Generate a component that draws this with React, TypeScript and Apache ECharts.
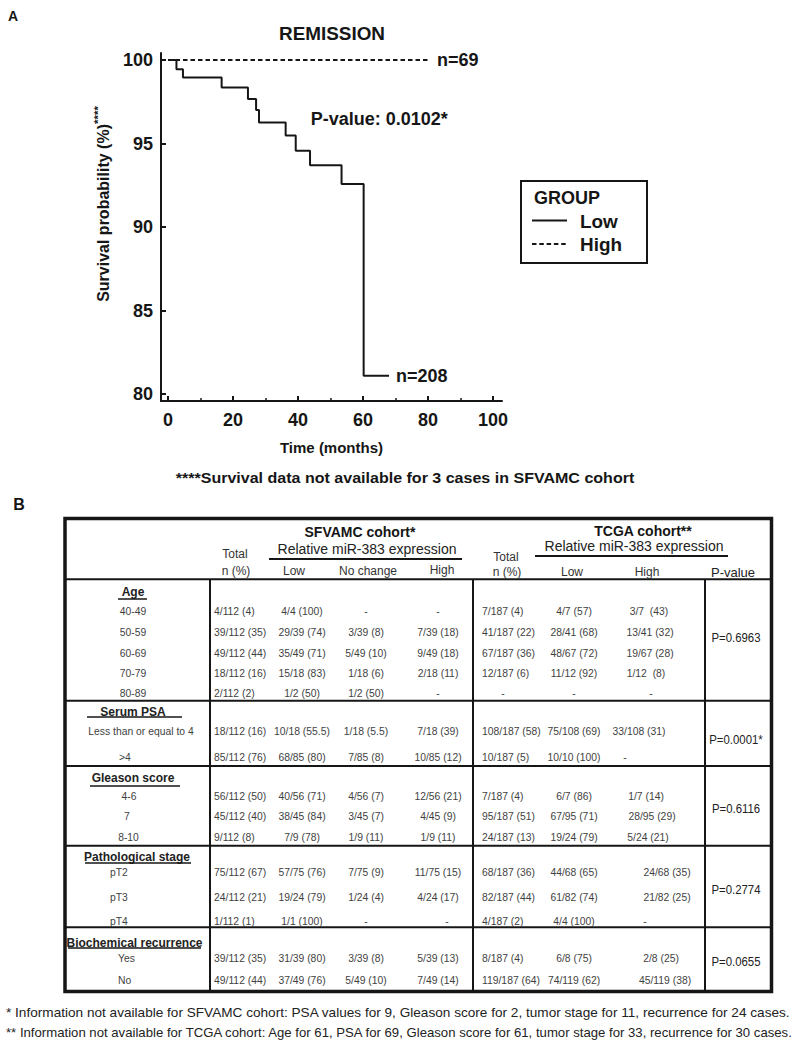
import React, { useEffect, useRef } from 'react';
import * as echarts from 'echarts';

// ---------- Panel A data (Kaplan-Meier, remission) ----------
const lowTimes = [0, 2.6, 4.6, 16.5, 24.6, 27.1, 28.0, 36.2, 39.3, 43.7, 53.4, 60.2, 68];
const lowSurvival = [100, 99.44, 98.95, 98.35, 97.67, 97.0, 96.26, 95.48, 94.57, 93.7, 92.58, 81.1, 81.1];
const highTimes = [0, 80];
const highSurvival = [100, 100];
const xTicks = [0, 20, 40, 60, 80, 100];
const xMinorTicks = [10, 30, 50, 70, 90];
const yTicks = [80, 85, 90, 95, 100];
const groups = ['Low', 'High'];
const groupN = ['n=208', 'n=69'];
const pValueText = 'P-value: 0.0102*';

// ---------- Panel B data (table) ----------
const sectionTitles = ['Age', 'Serum PSA', 'Gleason score', 'Pathological stage', 'Biochemical recurrence'];
const rowLabels = ['40-49', '50-59', '60-69', '70-79', '80-89', 'Less than or equal to 4', '>4', '4-6', '7', '8-10', 'pT2', 'pT3', 'pT4', 'Yes', 'No'];
const sfTotal = ['4/112 (4)', '39/112 (35)', '49/112 (44)', '18/112 (16)', '2/112 (2)', '18/112 (16)', '85/112 (76)', '56/112 (50)', '45/112 (40)', '9/112 (8)', '75/112 (67)', '24/112 (21)', '1/112 (1)', '39/112 (35)', '49/112 (44)'];
const sfLow = ['4/4 (100)', '29/39 (74)', '35/49 (71)', '15/18 (83)', '1/2 (50)', '10/18 (55.5)', '68/85 (80)', '40/56 (71)', '38/45 (84)', '7/9 (78)', '57/75 (76)', '19/24 (79)', '1/1 (100)', '31/39 (80)', '37/49 (76)'];
const sfNoChange = ['-', '3/39 (8)', '5/49 (10)', '1/18 (6)', '1/2 (50)', '1/18 (5.5)', '7/85 (8)', '4/56 (7)', '3/45 (7)', '1/9 (11)', '7/75 (9)', '1/24 (4)', '-', '3/39 (8)', '5/49 (10)'];
const sfHigh = ['-', '7/39 (18)', '9/49 (18)', '2/18 (11)', '-', '7/18 (39)', '10/85 (12)', '12/56 (21)', '4/45 (9)', '1/9 (11)', '11/75 (15)', '4/24 (17)', '-', '5/39 (13)', '7/49 (14)'];
const tcTotal = ['7/187 (4)', '41/187 (22)', '67/187 (36)', '12/187 (6)', '-', '108/187 (58)', '10/187 (5)', '7/187 (4)', '95/187 (51)', '24/187 (13)', '68/187 (36)', '82/187 (44)', '4/187 (2)', '8/187 (4)', '119/187 (64)'];
const tcLow = ['4/7 (57)', '28/41 (68)', '48/67 (72)', '11/12 (92)', '-', '75/108 (69)', '10/10 (100)', '6/7 (86)', '67/95 (71)', '19/24 (79)', '44/68 (65)', '61/82 (74)', '4/4 (100)', '6/8 (75)', '74/119 (62)'];
const tcHigh = ['3/7  (43)', '13/41 (32)', '19/67 (28)', '1/12  (8)', '-', '33/108 (31)', '-', '1/7 (14)', '28/95 (29)', '5/24 (21)', '24/68 (35)', '21/82 (25)', '-', '2/8 (25)', '45/119 (38)'];
const pValues = ['P=0.6963', 'P=0.0001*', 'P=0.6116', 'P=0.2774', 'P=0.0655'];
const footnotes = [
  '* Information not available for SFVAMC cohort: PSA values for 9, Gleason score for 2, tumor stage for 11, recurrence for 24 cases.',
  '** Information not available for TCGA cohort: Age for 61, PSA for 69, Gleason score for 61, tumor stage for 33, recurrence for 30 cases.',
];

// ---------- layout (positions only) ----------
const FONT = '"Liberation Sans", Arial, sans-serif';
const INK = '#161616';
const BODY = '#3f3f3f';
const X_MIN = -7 / 3.25;
const X_MAX = 100 + 9 / 3.25;
const Y_MIN = 80 - 7 / 16.7;
const Y_MAX = 100 + 7 / 16.7;

const rowY = [611, 632, 653, 673, 693, 731, 757, 796, 816, 837, 872, 897, 921, 958, 980];
const rowLabelPos: [number, string][] = [
  [133, 'center'], [133, 'center'], [133, 'center'], [133, 'center'], [133, 'center'],
  [141, 'center'], [119, 'left'],
  [129, 'center'], [127, 'center'], [128.5, 'center'],
  [110, 'left'], [110, 'left'], [110, 'left'],
  [118, 'left'], [118, 'left'],
];
const sectionY = [592, 712, 778, 857, 943];
const sectionX = [133, 133, 133, 137, 134.5];
const sectionUnderline = [[118, 147, 599], [87, 182, 717], [90, 180, 786], [85, 191, 863], [68, 201, 948]];
const separatorY = [700.7, 766, 845.7, 927.3];
const pY = [638, 740, 809, 890, 962];
const tcHighX = [649, 650, 650, 646, 651, 639, 625, 646, 652, 648, 667, 667, 645, 661, 665];
const footnoteScale = [1.08, 1.045];

function buildGraphic() {
  const g: any[] = [];
  const txt = (text: string, x: number, y: number, o: any = {}) =>
    g.push({
      type: 'text', x, y, silent: true, rotation: o.rotation || 0, scaleX: o.sx || 1,
      style: {
        text, fill: o.fill || BODY, fontSize: o.size || 11.5, fontWeight: o.weight || 'normal',
        fontFamily: FONT, align: o.align || 'center', verticalAlign: 'middle',
        textAlign: o.align || 'center', textVerticalAlign: 'middle', rich: o.rich,
      },
    });
  const ln = (x1: number, y1: number, x2: number, y2: number, w = 2, dash?: number[]) =>
    g.push({ type: 'line', silent: true, shape: { x1, y1, x2, y2 }, style: { stroke: INK, lineWidth: w, lineDash: dash } });

  // Panel letters and titles
  txt('A', 13, 16, { size: 14, weight: 'bold', fill: INK });
  txt('REMISSION', 332, 34, { size: 18, weight: 'bold', fill: INK, sx: 1.05 });
  txt('{a|Survival probability (%)}{b|****}', 103, 204, {
    rotation: Math.PI / 2, fill: INK,
    rich: {
      a: { fontSize: 16, fontWeight: 'bold', fontFamily: FONT, fill: INK },
      b: { fontSize: 11.5, fontWeight: 'bold', fontFamily: FONT, fill: INK, verticalAlign: 'top', lineHeight: 23 },
    },
  });
  txt('****Survival data not available for 3 cases in SFVAMC cohort', 405, 478, { size: 15, weight: 'bold', fill: INK, sx: 1.07 });

  // Legend box (GROUP)
  g.push({ type: 'rect', silent: true, shape: { x: 521, y: 181, width: 126, height: 82 }, style: { fill: 'none', stroke: INK, lineWidth: 2 } });
  txt('GROUP', 534, 198, { size: 18, weight: 'bold', fill: INK, align: 'left' });
  ln(532, 220.5, 567, 220.5, 2);
  ln(532, 244, 567, 244, 2, [4.5, 2.8]);
  txt(groups[0], 580, 222, { size: 18, weight: 'bold', fill: INK, align: 'left', sx: 1.05 });
  txt(groups[1], 580, 245, { size: 18, weight: 'bold', fill: INK, align: 'left', sx: 1.05 });

  // Panel B
  txt('B', 19, 504, { size: 16, weight: 'bold', fill: INK });
  g.push({ type: 'rect', silent: true, shape: { x: 65, y: 518.5, width: 706.5, height: 473 }, style: { fill: 'none', stroke: INK, lineWidth: 3.5 } });
  ln(65, 579.3, 771.5, 579.3, 2);
  [210, 473, 705].forEach((x) => ln(x, 579.3, x, 991.5, 2));
  separatorY.forEach((y) => ln(65, y, 771.5, y, 2));

  // header
  txt('SFVAMC cohort*', 360, 532, { size: 14, weight: 'bold', fill: INK });
  txt('Relative miR-383 expression', 367, 549, { size: 14, fill: '#222' });
  ln(269, 559, 462, 559, 2);
  txt('Total', 235, 554, { size: 12, fill: '#333' });
  txt('n (%)', 236, 571, { size: 12, fill: '#333' });
  txt('Low', 294, 571, { size: 12, fill: '#333' });
  txt('No change', 368, 571, { size: 12, fill: '#333' });
  txt('High', 442, 570, { size: 12, fill: '#333' });
  txt('TCGA cohort**', 643, 531, { size: 14, weight: 'bold', fill: INK });
  txt('Relative miR-383 expression', 634, 546, { size: 14, fill: '#222' });
  ln(535, 556, 728, 556, 2);
  txt('Total', 506, 557, { size: 12, fill: '#333' });
  txt('n (%)', 507, 572, { size: 12, fill: '#333' });
  txt('Low', 572, 572, { size: 12, fill: '#333' });
  txt('High', 647, 572, { size: 12, fill: '#333' });
  txt('P-value', 733, 572, { size: 13, fill: '#222' });

  sectionTitles.forEach((t, i) => {
    txt(t, sectionX[i], sectionY[i], { size: 12, weight: 'bold', fill: '#222' });
    const u = sectionUnderline[i];
    ln(u[0], u[2], u[1], u[2], 1.5);
  });

  const body = { sx: 0.9 };
  rowLabels.forEach((label, i) => {
    const y = rowY[i];
    txt(label, rowLabelPos[i][0], y, { ...body, align: rowLabelPos[i][1] });
    txt(sfTotal[i], 214, y, { ...body, align: 'left' });
    txt(sfLow[i], 302, y, body);
    txt(sfNoChange[i], 366, y, body);
    txt(sfHigh[i], sfHigh[i] === '-' && i === 12 ? 447 : 438, y, body);
    if (tcTotal[i] === '-') txt(tcTotal[i], 503, y, body);
    else txt(tcTotal[i], 482, y, { ...body, align: 'left' });
    txt(tcLow[i], 574, y, body);
    txt(tcHigh[i], tcHighX[i], y, body);
  });
  pValues.forEach((p, i) => txt(p, 736, pY[i], { size: 12.8, sx: 0.89, fill: '#222' }));

  footnotes.forEach((f, i) => txt(f, 6, 1013 + i * 20, { size: 12.6, sx: footnoteScale[i], fill: '#222', align: 'left' }));
  return g;
}

const axisText = { fontSize: 18, fontWeight: 'bold', color: INK, fontFamily: FONT };

function buildOption(): any {
  return {
    animation: false,
    backgroundColor: '#ffffff',
    textStyle: { fontFamily: FONT },
    grid: { left: 161, top: 53, width: 341, height: 348, containLabel: false },
    xAxis: [
      {
        type: 'value', min: X_MIN, max: X_MAX, position: 'bottom',
        axisLine: { show: true, onZero: false, lineStyle: { color: INK, width: 2 } },
        axisTick: { show: true, inside: true, length: 5, customValues: xTicks, lineStyle: { color: INK, width: 2 } },
        axisLabel: { customValues: xTicks, margin: 10, ...axisText },
        splitLine: { show: false },
        name: 'Time (months)', nameLocation: 'middle', nameGap: 39,
        nameTextStyle: { fontSize: 15, fontWeight: 'bold', color: INK, fontFamily: FONT },
      },
      {
        type: 'value', min: X_MIN, max: X_MAX, position: 'bottom', gridIndex: 0,
        axisLine: { show: false, onZero: false },
        axisTick: { show: true, inside: true, length: 3, customValues: xMinorTicks, lineStyle: { color: INK, width: 1.5 } },
        axisLabel: { show: false },
        splitLine: { show: false },
      },
    ],
    yAxis: {
      type: 'value', min: Y_MIN, max: Y_MAX,
      axisLine: { show: true, onZero: false, lineStyle: { color: INK, width: 2 } },
      axisTick: { show: true, inside: true, length: 5, customValues: yTicks, lineStyle: { color: INK, width: 2 } },
      axisLabel: { customValues: yTicks, margin: 8, ...axisText },
      splitLine: { show: false },
    },
    series: [
      {
        name: groups[0], type: 'line', step: 'end', symbol: 'none', showSymbol: false,
        data: lowTimes.map((t, i) => [t, lowSurvival[i]]),
        lineStyle: { color: INK, width: 2 }, itemStyle: { color: INK },
        endLabel: { show: true, formatter: groupN[0], distance: 7, ...axisText },
        markPoint: {
          symbol: 'circle', symbolSize: 0, silent: true,
          data: [{ coord: [43.9, 96.46], label: { show: true, position: 'right', distance: 0, formatter: pValueText, ...axisText } }],
        },
      },
      {
        name: groups[1], type: 'line', symbol: 'none', showSymbol: false,
        data: highTimes.map((t, i) => [t, highSurvival[i]]),
        lineStyle: { color: INK, width: 2, type: [4.5, 3] }, itemStyle: { color: INK },
        endLabel: { show: true, formatter: groupN[1], distance: 9, ...axisText },
      },
    ],
    graphic: buildGraphic(),
  };
}

export default function App() {
  const ref = useRef<HTMLDivElement>(null);
  useEffect(() => {
    const chart = echarts.init(ref.current!, null, { renderer: 'svg' });
    chart.setOption(buildOption());
    return () => chart.dispose();
  }, []);
  return (
    <div
      ref={ref}
      style={{ position: 'absolute', left: 0, top: 0, width: 800, height: 1046, background: '#fff' }}
    />
  );
}
